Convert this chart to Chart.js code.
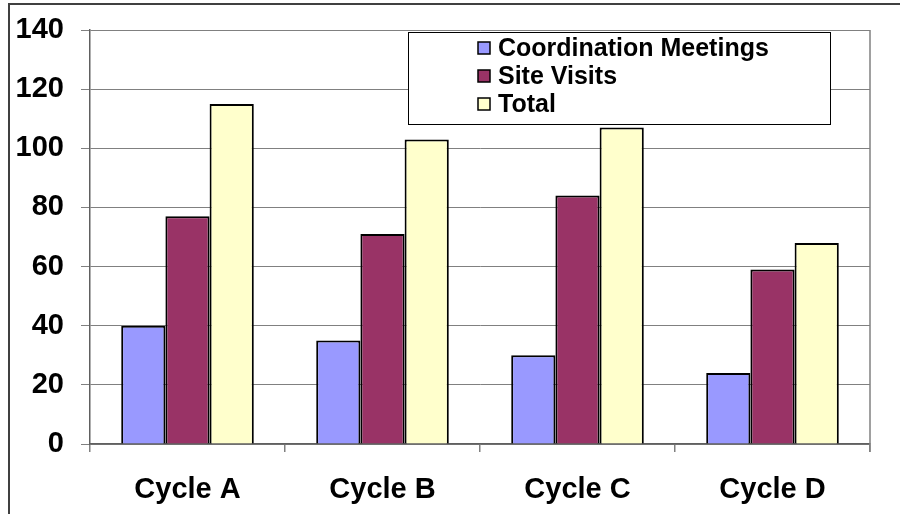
<!DOCTYPE html>
<html>
<head>
<meta charset="utf-8">
<script src="https://cdn.jsdelivr.net/npm/chart.js@4"></script>
<style>
  html, body { margin: 0; padding: 0; background: #fff; }
  #wrap { width: 900px; height: 514px; }
</style>
</head>
<body>
<div id="wrap"><canvas id="chart-visits" width="900" height="514"></canvas></div>
<script>
var cycles = ["Cycle A", "Cycle B", "Cycle C", "Cycle D"];
var coordinationMeetings = [40, 35, 30, 24];
var siteVisits = [77, 71, 84, 59];
var totals = [115, 103, 107, 68];
var yTicks = [0, 20, 40, 60, 80, 100, 120, 140];

var fontFamily = "'Liberation Sans', Arial, sans-serif";

// outer frame + right edge of plot area
var framePlugin = {
  id: "frame",
  beforeDraw: function (chart) {
    var ctx = chart.ctx;
    ctx.save();
    ctx.fillStyle = "#fff";
    ctx.fillRect(0, 0, chart.width, chart.height);
    ctx.strokeStyle = "#404040";
    ctx.lineWidth = 2;
    ctx.strokeRect(9, 4, chart.width + 20, chart.height + 20);
    ctx.restore();
  },
  afterDatasetsDraw: function (chart) {
    var a = chart.chartArea;
    var ctx = chart.ctx;
    ctx.save();
    ctx.strokeStyle = "#808080";
    ctx.lineWidth = 1.5;
    ctx.beginPath();
    ctx.moveTo(a.right, a.top);
    ctx.lineTo(a.right, a.bottom + 8);
    ctx.stroke();
    ctx.restore();
  }
};

// boxed legend inside the plot area
var boxLegend = {
  id: "boxLegend",
  afterDraw: function (chart) {
    var ctx = chart.ctx;
    var x = 408, y = 32, w = 422, h = 92;
    ctx.save();
    ctx.fillStyle = "#fff";
    ctx.fillRect(x, y, w, h);
    ctx.strokeStyle = "#000";
    ctx.lineWidth = 1;
    ctx.strokeRect(x + 0.5, y + 0.5, w, h);
    ctx.font = "bold 25px " + fontFamily;
    ctx.textBaseline = "middle";
    chart.data.datasets.forEach(function (ds, i) {
      var cy = y + 16 + i * 28;
      ctx.fillStyle = ds.backgroundColor;
      ctx.fillRect(478, cy - 6, 12, 12);
      ctx.strokeStyle = "#000";
      ctx.lineWidth = 1.5;
      ctx.strokeRect(478, cy - 6, 12, 12);
      ctx.fillStyle = "#000";
      ctx.fillText(ds.label, 498, cy + 1);
    });
    ctx.restore();
  }
};

var ctx1 = document.getElementById("chart-visits").getContext("2d");
var chart1 = new Chart(ctx1, {
  type: "bar",
  data: {
    labels: cycles,
    datasets: [
      {
        label: "Coordination Meetings",
        data: coordinationMeetings,
        backgroundColor: "#9999FF",
        borderColor: "#000",
        borderWidth: 2,
      },
      {
        label: "Site Visits",
        data: siteVisits,
        backgroundColor: "#993366",
        borderColor: "#000",
        borderWidth: 2,
      },
      {
        label: "Total",
        data: totals,
        backgroundColor: "#FFFFCC",
        borderColor: "#000",
        borderWidth: 2,
      },
    ],
  },
  options: {
    responsive: false,
    animation: false,
    devicePixelRatio: 1,
    layout: {
      padding: { left: 0, top: 30, right: 30, bottom: 0 },
    },
    datasets: {
      bar: {
        categoryPercentage: 0.68,
        barPercentage: 1,
      },
    },
    plugins: {
      legend: { display: false },
      tooltip: { enabled: false },
    },
    scales: {
      y: {
        min: 0,
        max: 140,
        afterFit: function (s) {
          s.width = 90;
          s.paddingTop = 0;
          s.paddingBottom = 0;
        },
        afterBuildTicks: function (s) {
          s.ticks = yTicks.map(function (v) { return { value: v }; });
        },
        border: { display: true, color: "#606060", width: 1.5 },
        grid: {
          color: "#808080",
          lineWidth: 1,
          drawTicks: true,
          tickLength: 9,
        },
        ticks: {
          color: "#000",
          padding: 17,
          font: { size: 29, weight: "bold", family: fontFamily },
        },
      },
      x: {
        afterFit: function (s) { s.height = 70; },
        border: { display: true, color: "#606060", width: 1.5 },
        grid: {
          offset: true,
          drawOnChartArea: false,
          drawTicks: true,
          tickLength: 8,
          color: "#808080",
          lineWidth: 1.5,
        },
        ticks: {
          color: "#000",
          padding: 21,
          maxRotation: 0,
          font: { size: 29, weight: "bold", family: fontFamily },
        },
      },
    },
  },
  plugins: [framePlugin, boxLegend],
});
</script>
</body>
</html>
